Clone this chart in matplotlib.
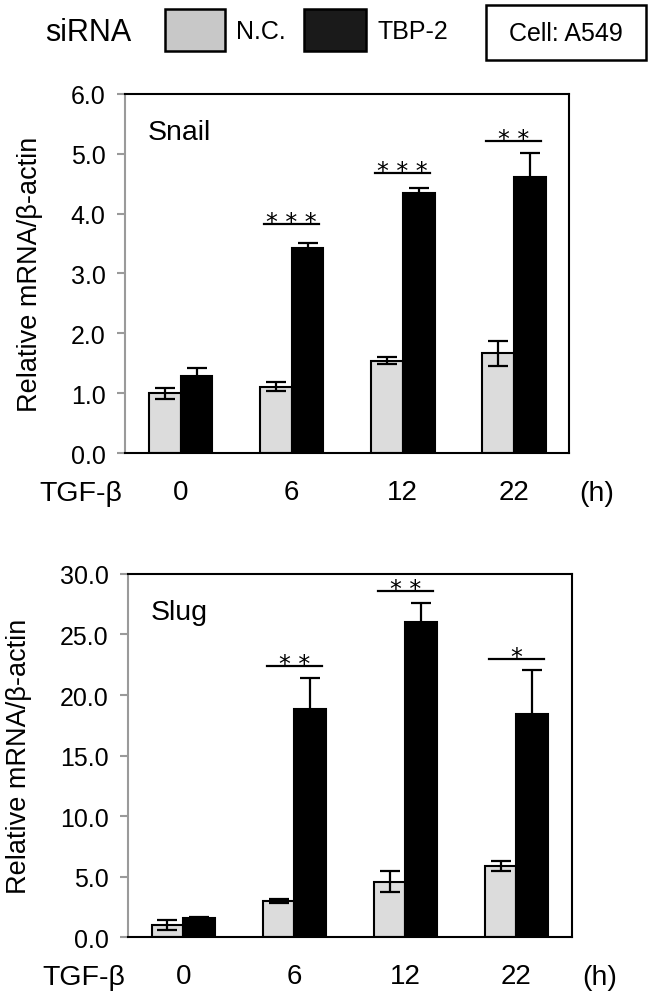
import numpy as np
import matplotlib
matplotlib.use("Agg")
import matplotlib.pyplot as plt
from matplotlib.patches import Rectangle

plt.rcParams['font.family'] = ['Liberation Sans', 'DejaVu Sans']

# --- Данные ---
times = ['0', '6', '12', '22']

snail_nc = [1.00, 1.11, 1.54, 1.67]
snail_nc_err = [0.09, 0.07, 0.06, 0.21]
snail_tbp = [1.28, 3.43, 4.35, 4.62]
snail_tbp_err = [0.14, 0.08, 0.08, 0.39]
snail_sig = ['', '* * *', '* * *', '* *']
snail_sig_y = [None, 3.82, 4.68, 5.21]

slug_nc = [0.99, 3.00, 4.57, 5.89]
slug_nc_err = [0.40, 0.18, 0.85, 0.40]
slug_tbp = [1.55, 18.84, 26.00, 18.43]
slug_tbp_err = [0.13, 2.60, 1.57, 3.64]
slug_sig = ['', '* *', '* *', '*']
slug_sig_y = [None, 22.4, 28.6, 23.0]

NC_COLOR = '#dcdcdc'
TBP_COLOR = '#000000'
BAR_W = 0.288


def draw_panel(ax, title, nc, nc_err, tbp, tbp_err, sig, sig_y, ymax, ystep):
    x = np.arange(len(times))
    err_kw = dict(ecolor='black', elinewidth=1.6, capsize=7, capthick=1.6)
    ax.bar(x - BAR_W / 2, nc, BAR_W, yerr=nc_err, color=NC_COLOR,
           edgecolor='black', linewidth=1.5, error_kw=err_kw, zorder=2)
    ax.bar(x + BAR_W / 2, tbp, BAR_W, yerr=tbp_err, color=TBP_COLOR,
           edgecolor='black', linewidth=1.5, error_kw=err_kw, zorder=2)

    # значимость
    for xi, s, sy in zip(x, sig, sig_y):
        if not s:
            continue
        ax.plot([xi - 0.245, xi + 0.245], [sy, sy], color='black', lw=1.6, zorder=3)
        ax.annotate(s, (xi, sy), xytext=(0, -3.5), textcoords='offset points',
                    ha='center', va='baseline', fontsize=17, family='DejaVu Sans')

    ax.set_xlim(-0.5, len(times) - 0.5)
    ax.set_ylim(0, ymax)
    ticks = np.arange(0, ymax + ystep / 2, ystep)
    ax.set_yticks(ticks, [f"{t:.1f}" for t in ticks])
    ax.tick_params(axis='y', labelsize=18, length=6, width=1.5, color='#9a9a9a', pad=8)
    ax.set_xticks(x, times)
    ax.tick_params(axis='x', labelsize=20, length=0, pad=19)
    for side in ['top', 'right', 'bottom']:
        ax.spines[side].set_linewidth(1.5)
        ax.spines[side].set_color('black')
    ax.spines['left'].set_linewidth(1.5)
    ax.spines['left'].set_color('#9a9a9a')
    ax.set_ylabel('Relative mRNA/β-actin', fontsize=19.5, labelpad=20)

    ax.text(0.05, 0.93, title, transform=ax.transAxes, fontsize=20.5, ha='left', va='top')
    ax.annotate('TGF-β', (0, 0), xycoords='axes fraction', xytext=(-2, -28.5),
                textcoords='offset points', ha='right', va='center', fontsize=20.5)
    ax.annotate('(h)', (1, 0), xycoords='axes fraction', xytext=(20, -28.5),
                textcoords='offset points', ha='center', va='center', fontsize=20.5)


figure = plt.figure(figsize=(6.58, 10.04), dpi=100)
ax_top = figure.add_axes([0.19, 0.5478, 0.6748, 0.3576])
ax_bot = figure.add_axes([0.1945, 0.0657, 0.6748, 0.3616])

draw_panel(ax_top, 'Snail', snail_nc, snail_nc_err, snail_tbp, snail_tbp_err,
           snail_sig, snail_sig_y, 6.0, 1.0)
draw_panel(ax_bot, 'Slug', slug_nc, slug_nc_err, slug_tbp, slug_tbp_err,
           slug_sig, slug_sig_y, 30.0, 5.0)

# --- Легенда сверху ---
W, H = 658, 1004


def fx(px):
    return px / W


def fy(py):
    return 1 - py / H


figure.text(fx(45), fy(33), 'siRNA', fontsize=22, ha='left', va='center')
figure.patches.append(Rectangle((fx(165), fy(52)), fx(60), 42 / H, transform=figure.transFigure,
                                facecolor='#c8c8c8', edgecolor='black', linewidth=1.8))
figure.text(fx(236), fy(32), 'N.C.', fontsize=18, ha='left', va='center')
figure.patches.append(Rectangle((fx(304), fy(52)), fx(62), 42 / H, transform=figure.transFigure,
                                facecolor='#1a1a1a', edgecolor='black', linewidth=1.8))
figure.text(fx(377), fy(32), 'TBP-2', fontsize=18, ha='left', va='center')
figure.patches.append(Rectangle((fx(486), fy(61)), fx(160), 55 / H, transform=figure.transFigure,
                                facecolor='white', edgecolor='black', linewidth=1.8))
figure.text(fx(566), fy(34), 'Cell: A549', fontsize=18, ha='center', va='center')

figure.savefig('out.png', dpi=100)
plt.close(figure)
